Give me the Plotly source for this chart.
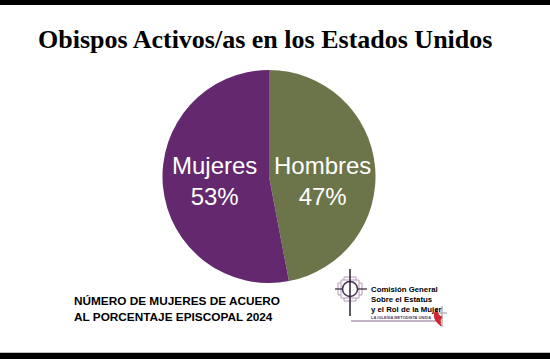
import plotly.graph_objects as go

# ---- data ----
categories = ["Hombres", "Mujeres"]
percentages = [47, 53]
slice_colors = ["#6c744a", "#63286e"]
label_centers = [(322, 167), (214, 167)]  # pixel centres of slice labels

title_text = "Obispos Activos/as en los Estados Unidos"
footer_lines = ["NÚMERO DE MUJERES DE ACUERO", "AL PORCENTAJE EPISCOPAL 2024"]
logo_lines = ["Comisión General", "Sobre el Estatus", "y el Rol de la Mujer"]
logo_sub = "LA IGLESIA METODISTA UNIDA"

W, H = 550, 359


def px(x):
    return x / W


def py(y):
    return 1 - y / H


cx, cy, r = 269, 176.5, 106.5

fig = go.Figure(
    go.Pie(
        labels=categories,
        values=percentages,
        sort=False,
        direction="clockwise",
        rotation=0,
        marker=dict(colors=slice_colors, line=dict(width=0)),
        textinfo="none",
        hoverinfo="label+percent",
        showlegend=False,
        domain=dict(x=[px(cx - r), px(cx + r)], y=[py(cy + r), py(cy - r)]),
    )
)

shapes = []
# black bars top and bottom
shapes.append(dict(type="rect", xref="paper", yref="paper", x0=0, x1=1, y0=py(5), y1=1,
                   fillcolor="black", line=dict(width=0), layer="above"))
shapes.append(dict(type="rect", xref="paper", yref="paper", x0=0, x1=1, y0=0, y1=py(352.7),
                   fillcolor="black", line=dict(width=0), layer="above"))

# logo icon
lcx, lcy = 350, 289
light = "#b49cba"
for hw, hh in [(6, 12), (12, 6), (9, 9)]:
    shapes.append(dict(type="rect", xref="paper", yref="paper",
                       x0=px(lcx - hw), x1=px(lcx + hw), y0=py(lcy + hh), y1=py(lcy - hh),
                       fillcolor="white", line=dict(color=light, width=1)))
shapes.append(dict(type="circle", xref="paper", yref="paper",
                   x0=px(lcx - 7.5), x1=px(lcx + 7.5), y0=py(lcy + 7.5), y1=py(lcy - 7.5),
                   fillcolor="white", line=dict(color="#4a2f55", width=1.5)))
shapes.append(dict(type="line", xref="paper", yref="paper",
                   x0=px(lcx), x1=px(lcx), y0=py(269), y1=py(316),
                   line=dict(color="#2a2030", width=1.5)))
shapes.append(dict(type="line", xref="paper", yref="paper",
                   x0=px(335), x1=px(lcx - 7.5), y0=py(lcy), y1=py(lcy),
                   line=dict(color="#2a2030", width=1.2)))
shapes.append(dict(type="line", xref="paper", yref="paper",
                   x0=px(lcx + 7.5), x1=px(367), y0=py(lcy), y1=py(lcy),
                   line=dict(color="#2a2030", width=1.2)))
# underline
shapes.append(dict(type="line", xref="paper", yref="paper",
                   x0=px(351), x1=px(436), y0=py(321), y1=py(321),
                   line=dict(color="#8a6a90", width=1.2)))
# flame & cross
shapes.append(dict(type="line", xref="paper", yref="paper",
                   x0=px(442), x1=px(442), y0=py(306), y1=py(327),
                   line=dict(color="#b5b5b5", width=1.5)))
shapes.append(dict(type="line", xref="paper", yref="paper",
                   x0=px(437), x1=px(447), y0=py(313), y1=py(313),
                   line=dict(color="#b5b5b5", width=1.5)))
flame = "M {} {} Q {} {} {} {} Q {} {} {} {} Q {} {} {} {} Z".format(
    px(441), py(326),
    px(430), py(318), px(437), py(308),
    px(437), py(316), px(442), py(317),
    px(439), py(320), px(441), py(326))
shapes.append(dict(type="path", xref="paper", yref="paper", path=flame,
                   fillcolor="#d3262e", line=dict(color="#d3262e", width=1)))

annotations = []
# slice labels (from data)
for (lx, ly), cat, val in zip(label_centers, categories, percentages):
    annotations.append(dict(text=f"{cat}<br>{val}%", xref="paper", yref="paper",
                            x=px(lx), y=py(ly + 14), xanchor="center", yanchor="middle",
                            showarrow=False, align="center",
                            font=dict(family="Liberation Sans, Arial", size=24, color="white")))
annotations.append(dict(text="<b>" + title_text + "</b>", xref="paper", yref="paper",
                        x=px(265), y=py(40), xanchor="center", yanchor="middle", showarrow=False,
                        font=dict(family="Liberation Serif, Times New Roman", size=26, color="black")))
for i, line in enumerate(footer_lines):
    annotations.append(dict(text="<b>" + line + "</b>", xref="paper", yref="paper",
                            x=px(72), y=py(301 + i * 15.5), xanchor="left", yanchor="middle",
                            showarrow=False,
                            font=dict(family="Liberation Sans, Arial", size=11.8, color="black")))
for i, line in enumerate(logo_lines):
    annotations.append(dict(text="<b>" + line + "</b>", xref="paper", yref="paper",
                            x=px(369), y=py(289 + i * 10), xanchor="left", yanchor="middle",
                            showarrow=False,
                            font=dict(family="Liberation Sans, Arial", size=7.8, color="black")))
annotations.append(dict(text="<b>" + logo_sub + "</b>", xref="paper", yref="paper",
                        x=px(369), y=py(317), xanchor="left", yanchor="middle", showarrow=False,
                        font=dict(family="Liberation Sans, Arial", size=4, color="#5a3a60")))

fig.update_layout(
    width=W, height=H,
    margin=dict(l=0, r=0, t=0, b=0),
    paper_bgcolor="white", plot_bgcolor="white",
    shapes=shapes, annotations=annotations,
)

fig.write_html("out.html", config={"displayModeBar": False},
               post_script="document.body.style.margin='0px';document.body.style.overflow='hidden';")
